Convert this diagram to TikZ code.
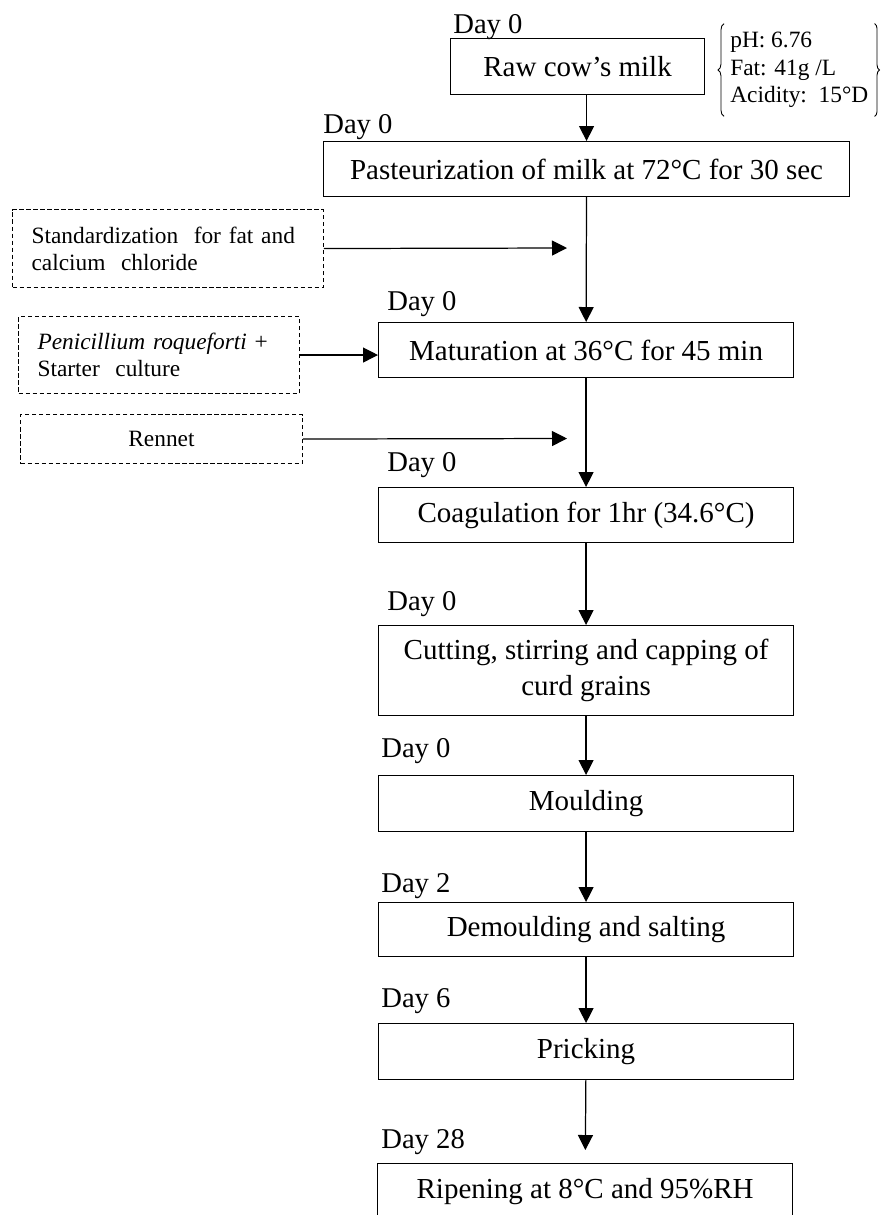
\documentclass[tikz,border=0pt]{standalone}
\usepackage{fontspec}
\setmainfont{Liberation Serif}
\usetikzlibrary{arrows.meta,decorations.pathreplacing}

\newcommand{\mainsize}{\fontsize{16.5}{20.5}\selectfont}
\newcommand{\smallsize}{\fontsize{13.3}{15.5}\selectfont}
\newcommand{\daysize}{\fontsize{16.3}{18}\selectfont}

\begin{document}
\begin{tikzpicture}[x=0.02cm,y=-0.02cm,>={Triangle[length=0.3cm,width=0.3cm]}]

%
% Styles
%
\tikzstyle{stage} = [rectangle,draw,line width=0.7pt,anchor=north west,inner sep=0pt,font=\mainsize,align=center,minimum width=8.3cm]
\tikzstyle{addbox} = [rectangle,draw,dash pattern=on 2.5pt off 1.5pt,line width=0.6pt,anchor=north west,inner xsep=0.38cm,inner ysep=0pt,font=\smallsize,align=left]
\tikzstyle{daylabel} = [anchor=base west,inner sep=0pt,font=\daysize]
\tikzstyle{flow} = [->,line width=0.7pt]

\path[use as bounding box,clip] (0,0) rectangle (894,1215);

% main column
\node[stage,minimum width=5.08cm,minimum height=1.12cm] (raw) at (450,38) {Raw cow's milk};
\node[stage,minimum width=10.52cm,minimum height=1.1cm] (past) at (323,141) {Pasteurization of milk at 72°C for 30 sec};
\node[stage,minimum height=1.1cm] (mat) at (378,322) {Maturation at 36°C for 45 min};
\node[stage,minimum height=1.1cm] (coag) at (378,487) {Coagulation for 1hr (34.6°C)};
\node[stage,minimum height=1.8cm] (cut) at (378,625) {Cutting, stirring and capping of\\curd grains};
\node[stage,minimum height=1.12cm] (mould) at (378,775) {Moulding};
\node[stage,minimum height=1.08cm] (demould) at (378,902) {Demoulding and salting};
\node[stage,minimum height=1.12cm] (prick) at (378,1023) {Pricking};
\node[stage,minimum height=1.1cm] (ripen) at (377,1163) {Ripening at 8°C and 95\%RH};

% days
\node[daylabel] (d1) at (453,33) {Day 0};
\node[daylabel] (d2) at (323,133) {Day 0};
\node[daylabel] (d3) at (387,310) {Day 0};
\node[daylabel] (d4) at (387,471) {Day 0};
\node[daylabel] (d5) at (387,610) {Day 0};
\node[daylabel] (d6) at (381,757) {Day 0};
\node[daylabel] (d7) at (381,892) {Day 2};
\node[daylabel] (d8) at (381,1007) {Day 6};
\node[daylabel] (d9) at (381,1148) {Day 28};

% milk data
\node[anchor=west,inner xsep=0.12cm,inner ysep=0pt,minimum height=1.84cm,font=\smallsize,align=left] (info) at (724,70)
  {pH: 6.76\\Fat: 41g /L\\Acidity:\ \ 15°D};
\draw[decorate,decoration={brace,amplitude=0.12cm},line width=0.5pt] (info.south west) -- (info.north west);
\draw[decorate,decoration={brace,amplitude=0.1cm},line width=0.5pt] (info.north east) -- (info.south east);

% additions
\node[addbox,text width=5.46cm,minimum height=1.56cm] (std) at (12,209) {Standardization\ \ for fat and\\calcium\ \ chloride};
\node[addbox,text width=4.86cm,minimum height=1.54cm] (pen) at (18,316) {\textit{Penicillium roqueforti} +\\Starter\ \ culture};
\node[addbox,text width=4.88cm,minimum height=0.98cm,align=center] (ren) at (20,414) {Rennet};

\coordinate (stdend) at (567,248);
\coordinate (renend) at (567,438.5);

\draw[flow] (raw.south -| past.north) -- (past.north);
\draw[flow] (past) -- (mat);
\draw[flow] (std.east) -- (stdend);
\draw[flow] (pen.east) -- (pen.east -| mat.west);
\draw[flow] (ren.east) -- (renend);
\draw[flow] (mat) -- (coag);
\draw[flow] (coag) -- (cut);
\draw[flow] (cut) -- (mould);
\draw[flow] (mould) -- (demould);
\draw[flow] (demould) -- (prick);
\draw[flow,shorten >=0.26cm] (prick) -- (ripen);

\end{tikzpicture}
\end{document}
